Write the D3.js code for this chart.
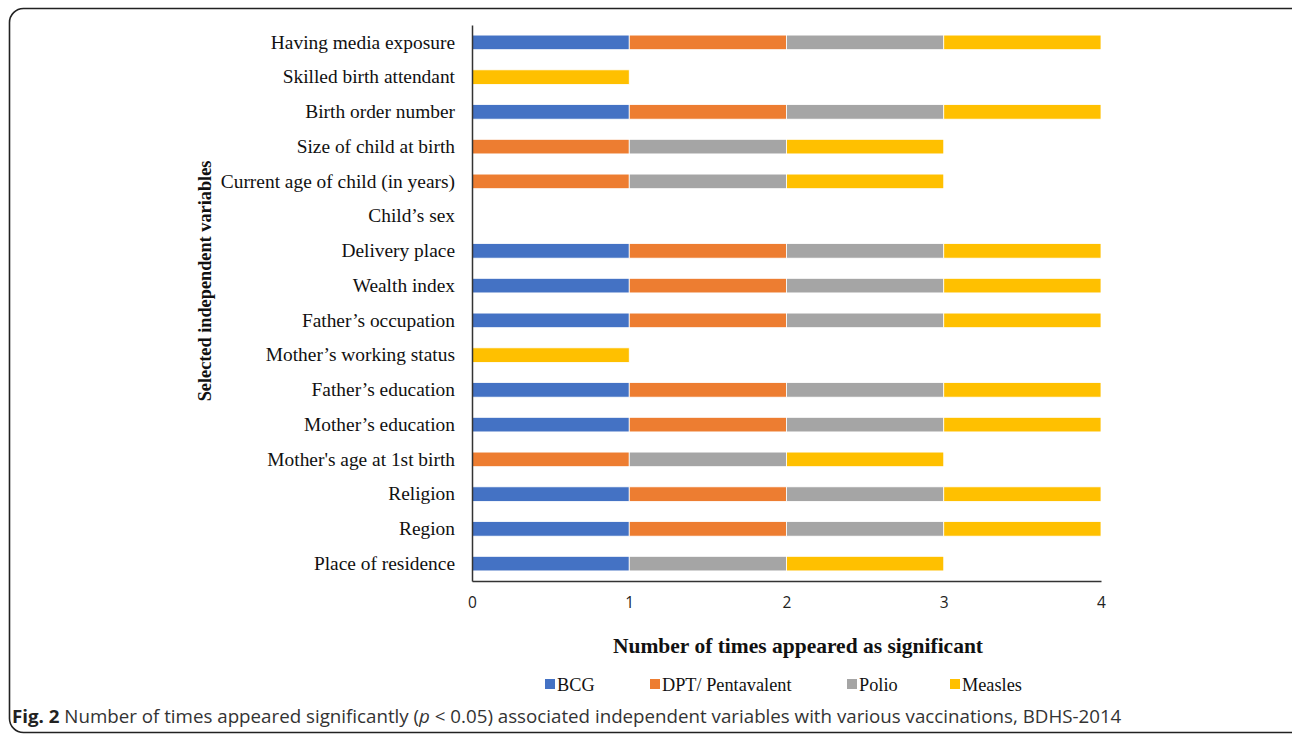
<!DOCTYPE html>
<html><head><meta charset="utf-8">
<script src="https://cdn.jsdelivr.net/npm/d3@7"></script>
<style>body{margin:0;background:#fff}svg{display:block}</style>
</head><body>
<svg id="c" width="1292" height="734"></svg>
<script>
const categories = ["Having media exposure","Skilled birth attendant","Birth order number","Size of child at birth","Current age of child (in years)","Child\u2019s sex","Delivery place","Wealth index","Father\u2019s occupation","Mother\u2019s working status","Father\u2019s education","Mother\u2019s education","Mother's age at 1st birth","Religion","Region","Place of residence"];
const seriesNames = ["BCG","DPT/ Pentavalent","Polio","Measles"];
const bcg     = [1,0,1,0,0,0,1,1,1,0,1,1,0,1,1,1];
const dpt     = [1,0,1,1,1,0,1,1,1,0,1,1,1,1,1,0];
const polio   = [1,0,1,1,1,0,1,1,1,0,1,1,1,1,1,1];
const measles = [1,1,1,1,1,0,1,1,1,1,1,1,1,1,1,1];
const xTicks = [0,1,2,3,4];
const colors = ["#4472C4","#ED7D31","#A5A5A5","#FFC000"];

(function(){
const svg = d3.select("#c");
svg.append("rect").attr("x",9.5).attr("y",8.5).attr("width",1310).attr("height",724)
  .attr("rx",14).attr("fill","none").attr("stroke","#222").attr("stroke-width",1.6);

const pLeft = 472, pRight = 1101, pTop = 25, pBottom = 581;
const x = d3.scaleLinear().domain([0,4]).range([pLeft,pRight]);
const y = d3.scaleBand().domain(categories).range([pTop,pBottom]).paddingInner(0.58).paddingOuter(0.29);

const rows = categories.map((c,i)=>({cat:c, BCG:bcg[i], "DPT/ Pentavalent":dpt[i], Polio:polio[i], Measles:measles[i]}));
const stack = d3.stack().keys(seriesNames)(rows);

const g = svg.append("g");
stack.forEach((s,si)=>{
  g.selectAll(null).data(s.filter(d=>d[1]-d[0]>0)).join("rect")
    .attr("x",d=>x(d[0])).attr("width",d=>x(d[1])-x(d[0]))
    .attr("y",d=>y(d.data.cat)).attr("height",y.bandwidth())
    .attr("fill",colors[si]).attr("stroke","#fff").attr("stroke-width",0.8);
});

const yAxis = d3.axisLeft(y).tickSize(0).tickPadding(17);
const ya = svg.append("g").attr("transform",`translate(${pLeft},0)`).call(yAxis);
ya.select(".domain").attr("stroke","#333").attr("stroke-width",1.5);
ya.selectAll("text").attr("font-family","Liberation Serif").attr("font-size",19.4).attr("fill","#111");

const xAxis = d3.axisBottom(x).tickValues(xTicks).tickSize(0).tickPadding(16).tickFormat(d3.format("d"));
const xa = svg.append("g").attr("transform",`translate(0,${pBottom})`).call(xAxis);
xa.select(".domain").attr("stroke","#333").attr("stroke-width",1.5);
xa.selectAll("text").attr("font-family","Open Sans").attr("font-size",15.5).attr("fill","#222");

svg.append("text").attr("transform","translate(211,281) rotate(-90)").attr("text-anchor","middle")
  .attr("font-family","Liberation Serif").attr("font-weight","bold").attr("font-size",18.3).attr("fill","#111")
  .text("Selected independent variables");
svg.append("text").attr("x",798).attr("y",653).attr("text-anchor","middle")
  .attr("font-family","Liberation Serif").attr("font-weight","bold").attr("font-size",21.5).attr("fill","#111")
  .text("Number of times appeared as significant");

const legX = [545,650,847,950];
const lg = svg.append("g");
seriesNames.forEach((n,i)=>{
  lg.append("rect").attr("x",legX[i]).attr("y",679).attr("width",10).attr("height",10).attr("fill",colors[i]);
  lg.append("text").attr("x",legX[i]+12).attr("y",690.5).attr("font-family","Liberation Serif")
    .attr("font-size",18.3).attr("fill","#111").text(n);
});

const cap = svg.append("text").attr("x",12).attr("y",723).attr("font-family","Open Sans").attr("font-size",18.5).attr("fill","#333");
cap.append("tspan").attr("font-weight","bold").attr("fill","#222").text("Fig. 2");
cap.append("tspan").text(" Number of times appeared significantly (");
cap.append("tspan").attr("font-style","italic").text("p");
cap.append("tspan").text(" < 0.05) associated independent variables with various vaccinations, BDHS-2014");
const w = cap.node().getComputedTextLength();
const target = 1110;
cap.attr("transform",`translate(12,0) scale(${target/w},1) translate(-12,0)`);
})();
</script>
</body></html>
